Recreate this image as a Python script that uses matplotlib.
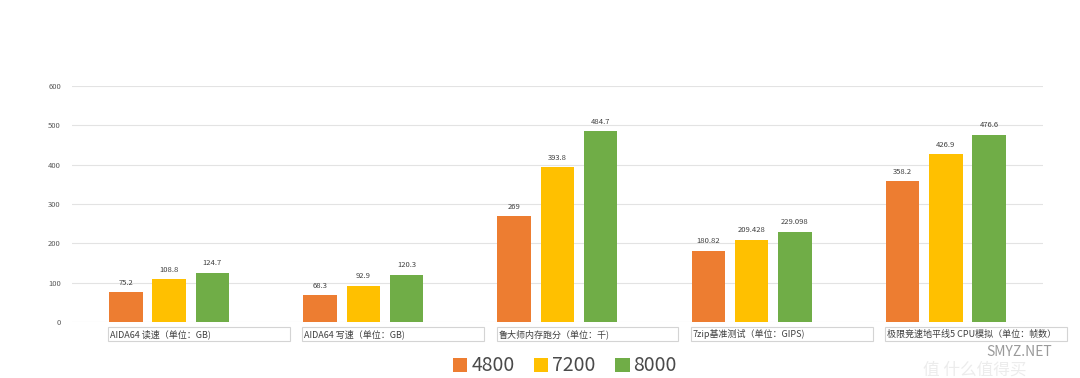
import numpy as np
from matplotlib import pyplot as plt
from matplotlib.patches import Rectangle
import matplotlib.transforms as mtransforms

plt.rcParams['font.family'] = ['Noto Sans CJK SC', 'DejaVu Sans']

categories = [
    "AIDA64 读速（单位：GB)",
    "AIDA64 写速（单位：GB)",
    "鲁大师内存跑分（单位：千)",
    "7zip基准测试（单位：GIPS)",
    "极限竞速地平线5 CPU模拟（单位：帧数）",
]
series_names = ["4800", "7200", "8000"]
values_4800 = [75.2, 68.3, 269, 180.82, 358.2]
values_7200 = [108.8, 92.9, 393.8, 209.428, 426.9]
values_8000 = [124.7, 120.3, 484.7, 229.098, 476.6]
value_labels = [
    ["75.2", "68.3", "269", "180.82", "358.2"],
    ["108.8", "92.9", "393.8", "209.428", "426.9"],
    ["124.7", "120.3", "484.7", "229.098", "476.6"],
]
colors = ["#ED7D31", "#FFC000", "#70AD47"]
y_ticks = [0, 100, 200, 300, 400, 500, 600]

fig = plt.figure(figsize=(10.8, 3.78), dpi=100)
ax = fig.add_axes([0.0667, 0.148, 0.899, 0.6245])

x = np.arange(len(categories))
step = 0.223
width = 0.172
series = [values_4800, values_7200, values_8000]

for i, (vals, color, name) in enumerate(zip(series, colors, series_names)):
    pos = x + (i - 1) * step
    bars = ax.bar(pos, vals, width=width, color=color, label=name, zorder=3)
    for b, txt in zip(bars, value_labels[i]):
        ax.annotate(txt, (b.get_x() + b.get_width() / 2, b.get_height()),
                    xytext=(0, 4), textcoords="offset points",
                    ha="center", va="bottom", fontsize=5.5, color="#404040")

ax.set_xlim(-0.5, len(categories) - 0.5)
ax.set_ylim(0, 600)
ax.set_yticks(y_ticks)
ax.set_xticks([])
ax.tick_params(axis="y", length=0, pad=8, labelsize=5.5, labelcolor="#595959")
ax.grid(axis="y", color="#e3e3e3", linewidth=0.8, zorder=0)
for s in ax.spines.values():
    s.set_visible(False)

# category labels in boxes under the bars
trans = mtransforms.blended_transform_factory(ax.transData, ax.transAxes)
for xi, label in zip(x, categories):
    left = xi - step - width / 2 - 0.005
    ax.add_patch(Rectangle((left, -0.082), 0.937, 0.06, transform=trans,
                           facecolor="white", edgecolor="#d4d4d4",
                           linewidth=0.8, clip_on=False, zorder=4))
    ax.text(left + 0.01, -0.052, label, transform=trans, ha="left", va="center",
            fontsize=6.5, color="#404040", clip_on=False, zorder=5)

fig.legend(loc="center", bbox_to_anchor=(0.523, 0.032), ncol=3, frameon=False,
           fontsize=14, handlelength=0.75, handleheight=0.75, handletextpad=0.2,
           columnspacing=1.0, labelcolor="#4a4a4a")

# watermark
fig.text(0.855, 0.022, "值 什么值得买", fontsize=12, color="#ececec", ha="left", va="center")
fig.text(0.913, 0.068, "SMYZ.NET", fontsize=10, color="#9a9a9a", ha="left", va="center")

fig.savefig("out.png", dpi=100)
